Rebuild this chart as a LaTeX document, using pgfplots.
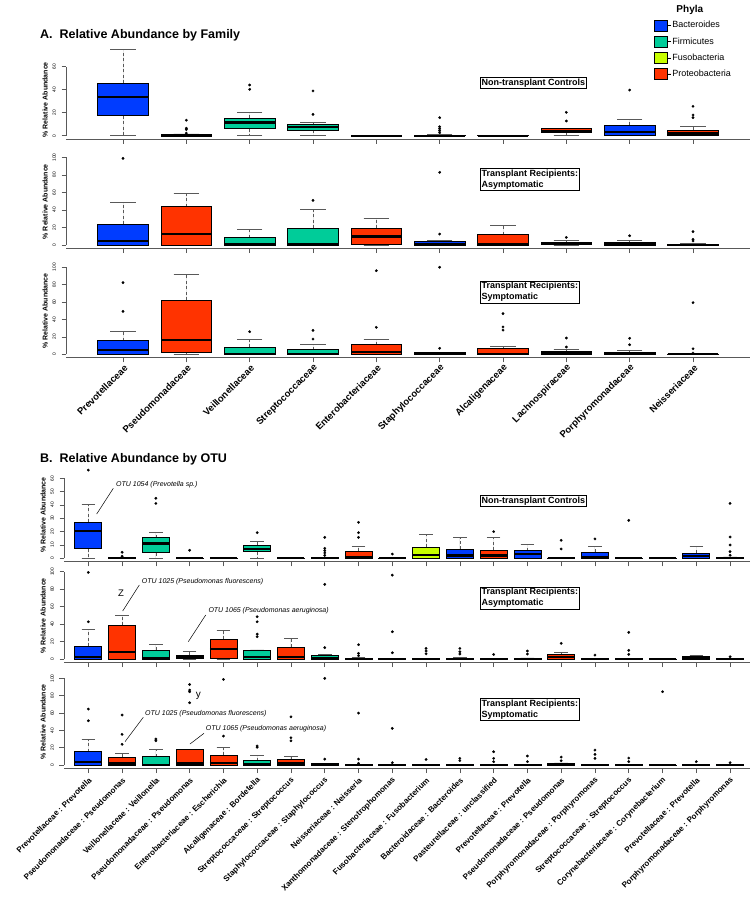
\documentclass[border=0pt]{standalone}
\usepackage{pgfplots}
\pgfplotsset{compat=1.18}
\usepgfplotslibrary{statistics}
\usepackage{fontspec}
\setmainfont{Liberation Sans}
\setsansfont{Liberation Sans}

\definecolor{bact}{RGB}{0,60,255}
\definecolor{firm}{RGB}{0,204,153}
\definecolor{fuso}{RGB}{200,255,0}
\definecolor{prot}{RGB}{255,51,0}
\definecolor{axc}{gray}{0.35}
\newcommand\fs[2]{\fontsize{#1}{#2}\selectfont}

% \bx{position}{colour}{lower whisker}{Q1}{median}{Q3}{upper whisker}{outliers}
\newcommand\bx[8]{\addplot[bp,fill=#2,boxplot prepared={draw direction=y,draw position=#1,lower whisker=#3,lower quartile=#4,median=#5,upper quartile=#6,upper whisker=#7}] coordinates {#8};}

\pgfplotsset{
  panel/.style={
    scale only axis, clip=false,
    axis x line*=bottom, axis y line*=left,
    axis line style={axc,line width=0.7pt},
    tick align=outside, major tick length=4.5pt,
    tick style={axc,line width=0.6pt},
    xticklabels=\empty,
    yticklabel style={font=\fs{4.8}{5}, xshift=-5pt, rotate=90, anchor=south, inner sep=0.5pt},
    /pgf/number format/assume math mode=true,
    every axis y label/.style={at={(axis description cs:0,0.5)}, xshift=-21pt, rotate=90, anchor=center, font=\bfseries\fs{7}{8}},
    ylabel={\% Relative Abundance},
  },
  apanel/.style={panel, width=684pt, xmin=0.1, xmax=10.9, xtick={1,...,10}},
  bpanel/.style={panel, width=686pt, xmin=0.28, xmax=20.59, xtick={1,...,20}},
  bp/.style={
    draw=black, line width=0.8pt, solid,
    mark=*, mark size=1.25pt, mark options={fill=black, draw=black, line width=0.3pt},
    boxplot/box extend=0.8, boxplot/whisker extend=0.4,
    boxplot/every median/.style={line width=2.3pt},
    boxplot/draw/lower whisker/.code={
      \draw[axc, dash pattern=on 3pt off 2.5pt, line width=0.6pt] (boxplot cs:\pgfplotsboxplotvalue{lower quartile}) -- (boxplot cs:\pgfplotsboxplotvalue{lower whisker});
      \draw[axc, solid, line width=0.7pt] (boxplot whisker cs:\pgfplotsboxplotvalue{lower whisker},0) -- (boxplot whisker cs:\pgfplotsboxplotvalue{lower whisker},1);
    },
    boxplot/draw/upper whisker/.code={
      \draw[axc, dash pattern=on 3pt off 2.5pt, line width=0.6pt] (boxplot cs:\pgfplotsboxplotvalue{upper quartile}) -- (boxplot cs:\pgfplotsboxplotvalue{upper whisker});
      \draw[axc, solid, line width=0.7pt] (boxplot whisker cs:\pgfplotsboxplotvalue{upper whisker},0) -- (boxplot whisker cs:\pgfplotsboxplotvalue{upper whisker},1);
    },
    boxplot/draw direction=y,
  },
}

\begin{document}
\begin{tikzpicture}
\useasboundingbox (0,0) rectangle (754pt,-913pt);

% ---------------- A: by family ----------------
\begin{axis}[apanel, at={(66pt,-139.2pt)}, anchor=south west, height=94.9pt,
  ymin=-3.06, ymax=79.5, ytick={0,20,40,60},
  y axis line style={shorten <=3.5pt, shorten >=22.4pt},
  every axis y label/.append style={at={(axis description cs:0,0.416)}},
  legend style={at={(axis description cs:0.8596,1.42)}, anchor=north west, draw=none, fill=none,
    inner sep=0pt, row sep=4.6pt, font=\fs{9}{10}, nodes={inner sep=0.8pt}, cells={anchor=west}},
  legend image code/.code={\draw[#1,draw=black,line width=0.6pt] (0pt,-5.5pt) rectangle (13pt,5.5pt); \path (13pt,0pt) -- (17pt,0pt);},
]
\addlegendimage{empty legend}\addlegendentry{\hspace{4pt}\bfseries\fs{10}{11}Phyla}
\addlegendimage{fill=bact}\addlegendentry{Bacteroides}
\addlegendimage{fill=firm}\addlegendentry{Firmicutes}
\addlegendimage{fill=fuso}\addlegendentry{Fusobacteria}
\addlegendimage{fill=prot}\addlegendentry{Proteobacteria}
\bx{1}{bact}{0}{17.4}{33.4}{45.6}{75.4}{}
\bx{2}{prot}{0}{0}{0}{0.8}{1.5}{(0,13.5)(0,6.5)(0,5.3)(0,2.2)}
\bx{3}{firm}{0}{6.1}{11.6}{15.1}{20.6}{(0,44.1)(0,40.3)}
\bx{4}{firm}{0}{4.7}{7.3}{9.9}{11.9}{(0,38.9)(0,18.6)}
\bx{5}{prot}{0}{0}{0}{0.3}{0.5}{}
\bx{6}{bact}{0}{0}{0}{0.5}{1}{(0,15.7)(0,7.8)(0,6)(0,4.3)(0,2.6)}
\bx{7}{prot}{0}{0}{0}{0.2}{0.3}{}
\bx{8}{prot}{0}{2.6}{4.1}{6.1}{6.4}{(0,20.3)(0,12.8)}
\bx{9}{bact}{0}{0}{3.5}{9}{14.5}{(0,39.7)}
\bx{10}{prot}{0}{0}{2}{5}{8.4}{(0,25.6)(0,18)(0,15.7)}
\end{axis}

\begin{axis}[apanel, at={(66pt,-248.5pt)}, anchor=south west, height=93.7pt,
  ymin=-3.96, ymax=102.9, ytick={0,20,...,100},
  y axis line style={shorten <=3.5pt, shorten >=2.5pt}]
\bx{1}{bact}{0}{0}{4.9}{23.6}{48.2}{(0,98.8)}
\bx{2}{prot}{0}{0}{12.9}{43.7}{58.9}{}
\bx{3}{firm}{0}{0}{1.1}{8.4}{17.5}{}
\bx{4}{firm}{0}{0}{1.1}{19}{40.3}{(0,50.9)}
\bx{5}{prot}{0}{0.8}{9.9}{19}{30.4}{}
\bx{6}{bact}{0}{0}{0.8}{4.2}{5.3}{(0,82.9)(0,12.5)}
\bx{7}{prot}{0}{0}{1.5}{11.8}{22}{}
\bx{8}{prot}{0}{0.3}{1.5}{3}{5.7}{(0,8.7)}
\bx{9}{bact}{0}{0}{1.1}{2.7}{4.9}{(0,10.6)}
\bx{10}{prot}{0}{0}{0}{0.8}{1.5}{(0,15.2)(0,6.5)(0,4.6)}
\end{axis}

\begin{axis}[apanel, at={(66pt,-357.8pt)}, anchor=south west, height=94pt,
  ymin=-4, ymax=104, ytick={0,20,...,100},
  y axis line style={shorten <=3.5pt, shorten >=3.5pt},
  xticklabels={Prevotellaceae,Pseudomonadaceae,Veillonellaceae,Streptococcaceae,Enterobacteriaceae,Staphylococcaceae,Alcaligenaceae,Lachnospiraceae,Porphyromonadaceae,Neisseriaceae},
  xticklabel style={font=\bfseries\fs{9.5}{11}, xshift=3pt, yshift=-4pt, rotate=45, anchor=east, inner sep=0pt}]
\bx{1}{bact}{0}{0}{5.3}{15.7}{26}{(0,82.3)(0,49.4)}
\bx{2}{prot}{0}{1.9}{16.1}{62}{91.9}{}
\bx{3}{firm}{0}{0}{0.4}{8}{17.2}{(0,26)}
\bx{4}{firm}{0}{0}{0.4}{5.3}{11.8}{(0,27.6)(0,17.6)}
\bx{5}{prot}{0}{0.4}{2.6}{11}{17.6}{(0,96.1)(0,31)}
\bx{6}{bact}{0}{0}{0}{2}{2.6}{(0,100)(0,6.9)}
\bx{7}{prot}{0}{0}{0.4}{6.9}{9.5}{(0,46.7)(0,31.4)(0,27.9)}
\bx{8}{prot}{0}{0}{1}{3.3}{5.7}{(0,18.7)(0,8.4)}
\bx{9}{bact}{0}{0}{0.7}{2.2}{4.1}{(0,18.4)(0,11)}
\bx{10}{prot}{0}{0}{0}{0.3}{0.5}{(0,59.3)(0,6.4)(0,1.5)}
\end{axis}

% ---------------- B: by OTU ----------------
\begin{axis}[bpanel, at={(64pt,-561.8pt)}, anchor=south west, height=93.6pt,
  ymin=-2.64, ymax=67.6, ytick={0,10,...,60},
  y axis line style={shorten <=3.5pt, shorten >=10.1pt}]
\bx{1}{bact}{0}{7.2}{20.5}{27.2}{40.7}{(0,66.2)}
\bx{2}{prot}{0}{0}{0}{0.3}{0.5}{(0,4.5)(0,1.5)}
\bx{3}{firm}{0}{4.2}{11.2}{15.5}{19.7}{(0,45)(0,41.2)}
\bx{4}{prot}{0}{0}{0}{0.2}{0.3}{(0,6)}
\bx{5}{prot}{0}{0}{0}{0.2}{0.3}{}
\bx{6}{firm}{0}{5}{7}{10}{12.5}{(0,19.2)}
\bx{7}{prot}{0}{0}{0}{0.2}{0.3}{}
\bx{8}{firm}{0}{0}{0}{0.4}{0.8}{(0,15.7)(0,7.5)(0,5.7)(0,4)(0,2.2)}
\bx{9}{prot}{0}{0}{1.2}{5.5}{9}{(0,27)(0,19.2)(0,15.7)}
\bx{10}{prot}{0}{0}{0}{0.2}{0.4}{(0,3.2)}
\bx{11}{fuso}{0}{0}{2.5}{8.2}{18.2}{}
\bx{12}{bact}{0}{0}{2.2}{6.7}{15.5}{}
\bx{13}{prot}{0}{0}{2.2}{6.2}{15.5}{(0,20)}
\bx{14}{bact}{0}{0}{3}{5.7}{10.5}{}
\bx{15}{prot}{0}{0}{0}{0.2}{0.4}{(0,13.5)(0,7)}
\bx{16}{bact}{0}{0}{1.2}{4.7}{9.2}{(0,14.5)}
\bx{17}{firm}{0}{0}{0}{0.2}{0.3}{(0,28.5)}
\bx{18}{bact}{0}{0}{0}{0.1}{0.2}{}
\bx{19}{bact}{0}{0}{1.5}{4}{9}{}
\bx{20}{bact}{0}{0}{0}{0.5}{1}{(0,41.2)(0,16)(0,10)(0,5)(0,2.3)}
\end{axis}

\begin{axis}[bpanel, at={(64pt,-662.5pt)}, anchor=south west, height=93.6pt,
  ymin=-3.97, ymax=103.3, ytick={0,20,...,100},
  y axis line style={shorten <=3.5pt, shorten >=2.9pt}]
\bx{1}{bact}{0}{0}{2.6}{14.9}{34}{(0,99.3)(0,42.7)}
\bx{2}{prot}{0}{0}{8.4}{38.6}{49.6}{}
\bx{3}{firm}{0}{0}{0.8}{9.9}{16.8}{}
\bx{4}{prot}{0}{0.8}{3}{4.6}{9.2}{}
\bx{5}{prot}{0}{0.8}{11.5}{22.5}{32.9}{}
\bx{6}{firm}{0}{0}{2.6}{10}{10.5}{(0,48.5)(0,42.7)(0,28.6)(0,25.6)}
\bx{7}{prot}{0}{0}{2.6}{13.4}{23.7}{}
\bx{8}{firm}{0}{0}{0.8}{4.6}{5.5}{(0,85.6)(0,13)}
\bx{9}{prot}{0}{0}{0}{0.8}{1.5}{(0,16.4)(0,6.5)(0,3.8)}
\bx{10}{prot}{0}{0}{0}{0.3}{0.5}{(0,96.2)(0,31.3)(0,7.2)}
\bx{11}{fuso}{0}{0}{0}{0.3}{0.5}{(0,12.2)(0,9.2)(0,6)}
\bx{12}{bact}{0}{0}{0}{1}{1.5}{(0,12.2)(0,8.4)(0,5.7)}
\bx{13}{prot}{0}{0}{0}{0.3}{0.5}{(0,5.3)}
\bx{14}{bact}{0}{0}{0}{0.8}{1.2}{(0,9.2)(0,5.7)}
\bx{15}{prot}{0}{0}{2.6}{5.7}{7.7}{(0,18)}
\bx{16}{bact}{0}{0}{0}{0.3}{0.5}{(0,4.6)}
\bx{17}{firm}{0}{0}{0}{0.3}{0.5}{(0,30.5)(0,10)(0,5.3)}
\bx{18}{bact}{0}{0}{0}{0.1}{0.2}{}
\bx{19}{bact}{0}{0}{1}{2.5}{4.6}{}
\bx{20}{bact}{0}{0}{0}{0.3}{0.5}{(0,2.6)}
\end{axis}

\begin{axis}[bpanel, at={(64pt,-768.5pt)}, anchor=south west, height=93.6pt,
  ymin=-4, ymax=104, ytick={0,20,...,100},
  y axis line style={shorten <=3.5pt, shorten >=3.5pt},
  xticklabels={Prevotellaceae : Prevotella,Pseudomonadaceae : Pseudomonas,Veillonellaceae : Veillonella,Pseudomonadaceae : Pseudomonas,Enterobacteriaceae : Escherichia,Alcaligenaceae : Bordetella,Streptococcaceae : Streptococcus,Staphylococcaceae : Staphylococcus,Neisseriaceae : Neisseria,Xanthomonadaceae : Stenotrophomonas,Fusobacteriaceae : Fusobacterium,Bacteroidaceae : Bacteroides,Pasteurellaceae : unclassified,Prevotellaceae : Prevotella,Pseudomonadaceae : Pseudomonas,Porphyromonadaceae : Porphyromonas,Streptococcaceae : Streptococcus,Corynebacteriaceae : Corynebacterium,Prevotellaceae : Prevotella,Porphyromonadaceae : Porphyromonas},
  xticklabel style={font=\bfseries\fs{8}{9}, xshift=2pt, yshift=-6pt, rotate=45, anchor=east, inner sep=0pt}]
\bx{1}{bact}{0}{0}{3.5}{15.4}{29.2}{(0,64.6)(0,51.1)}
\bx{2}{prot}{0}{0}{1.9}{8.9}{13.5}{(0,57.7)(0,35.4)(0,23.9)}
\bx{3}{firm}{0}{0}{0}{9.6}{18.1}{(0,30)(0,28)}
\bx{4}{prot}{0}{0}{1.9}{18.1}{18.1}{(0,93)(0,86.5)(0,84.6)(0,71.9)}
\bx{5}{prot}{0}{0}{2.7}{11.5}{20}{(0,98.8)(0,33.4)}
\bx{6}{firm}{0}{0}{0.8}{5}{11.2}{(0,22)(0,20.5)}
\bx{7}{prot}{0}{0}{1.9}{6.9}{10.4}{(0,55.7)(0,31.5)(0,28)}
\bx{8}{firm}{0}{0}{0}{1.9}{2.3}{(0,100)(0,6.9)}
\bx{9}{prot}{0}{0}{0}{0.5}{1}{(0,60)(0,6.9)(0,1.9)}
\bx{10}{prot}{0}{0}{0}{0.3}{0.5}{(0,42.3)(0,2.7)}
\bx{11}{fuso}{0}{0}{0}{0.3}{0.5}{(0,6.5)}
\bx{12}{bact}{0}{0}{0}{0.3}{0.5}{(0,7.7)(0,5.1)}
\bx{13}{prot}{0}{0}{0}{0.3}{0.5}{(0,15.4)(0,7.7)(0,3.9)}
\bx{14}{bact}{0}{0}{0}{0.3}{0.5}{(0,10.4)(0,3.9)}
\bx{15}{prot}{0}{0}{0}{1.5}{2.5}{(0,9.2)(0,5)}
\bx{16}{bact}{0}{0}{0}{0.3}{0.5}{(0,17.3)(0,12.3)(0,7.7)}
\bx{17}{firm}{0}{0}{0}{0.3}{0.5}{(0,8.1)(0,3.9)}
\bx{18}{bact}{0}{0}{0}{0.1}{0.2}{(0,84.6)}
\bx{19}{bact}{0}{0}{0}{0.3}{0.5}{(0,3.9)}
\bx{20}{bact}{0}{0}{0}{0.3}{0.5}{(0,2.7)}
\end{axis}

% ---------------- titles and annotations ----------------
\begin{scope}[x=1pt,y=-1pt]
\node[anchor=west,inner sep=0pt,font=\bfseries\fs{12.5}{14}] at (40,35) {A.\hspace{0.55em}Relative Abundance by Family};
\node[anchor=west,inner sep=0pt,font=\bfseries\fs{12.5}{14}] at (40,459) {B.\hspace{0.55em}Relative Abundance by OTU};
\tikzset{grp/.style={draw=black,line width=0.6pt,anchor=north west,align=left,inner sep=1.3pt,font=\bfseries\fs{9}{11}}}
\node[grp] at (480,77) {Non-transplant Controls};
\node[grp] at (480,168) {Transplant Recipients:\\Asymptomatic};
\node[grp] at (480,280.7) {Transplant Recipients:\\Symptomatic};
\node[grp] at (480,495) {Non-transplant Controls};
\node[grp] at (480,586.7) {Transplant Recipients:\\Asymptomatic};
\node[grp] at (480,698.3) {Transplant Recipients:\\Symptomatic};
\tikzset{otu/.style={anchor=west,inner sep=0pt,font=\itshape\fs{7}{8}}}
\draw[line width=0.5pt] (96.7,514) -- (113.3,488.3);
\node[otu] at (116,484.7) {OTU 1054 (Prevotella sp.)};
\draw[line width=0.5pt] (122.7,611) -- (139.3,585);
\node[otu] at (141.7,581.3) {OTU 1025 (Pseudomonas fluorescens)};
\draw[line width=0.5pt] (188.3,641.7) -- (205.7,615);
\node[otu] at (208.3,611) {OTU 1065 (Pseudomonas aeruginosa)};
\draw[line width=0.5pt] (125,741.7) -- (143.3,717.3);
\node[otu] at (145,714) {OTU 1025 (Pseudomonas fluorescens)};
\draw[line width=0.5pt] (190,744) -- (204,733.3);
\node[otu] at (205.7,728.3) {OTU 1065 (Pseudomonas aeruginosa)};
\node[inner sep=0pt,font=\fs{9.5}{10}] at (121,593.3) {Z};
\node[inner sep=0pt,font=\fs{10}{11}] at (198.3,696) {y};
\end{scope}
\end{tikzpicture}
\end{document}
